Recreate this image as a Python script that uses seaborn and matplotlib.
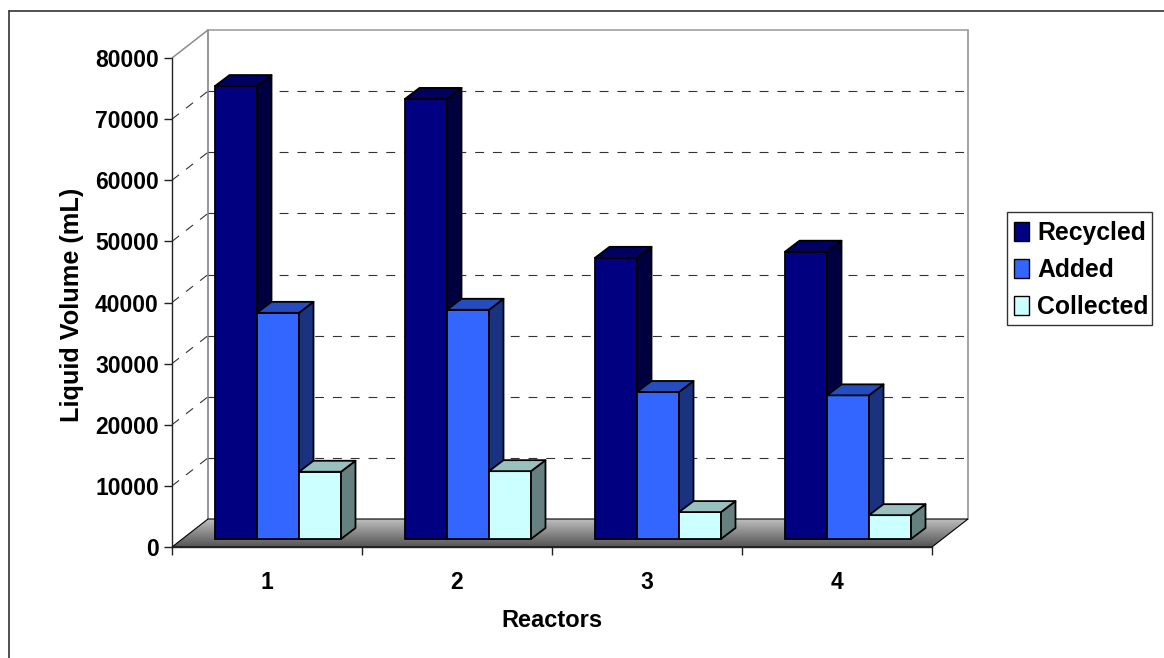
import numpy as np
import seaborn as sns
import pandas as pd
from matplotlib import pyplot as plt
from matplotlib.colors import to_rgb
from matplotlib.patches import Patch, Polygon, Rectangle
from matplotlib.transforms import Affine2D, IdentityTransform

reactors = ['1', '2', '3', '4']
series_names = ['Recycled', 'Added', 'Collected']
recycled = [74100, 72000, 46000, 47000]
added = [37000, 37500, 24050, 23500]
collected = [11000, 11100, 4400, 3900]
colors = ['#000080', '#3366FF', '#CCFFFF']
y_ticks = [0, 10000, 20000, 30000, 40000, 50000, 60000, 70000, 80000]

W, H = 1164, 658

df = pd.DataFrame({
    'reactor': reactors * 3,
    'series': np.repeat(series_names, 4),
    'volume': recycled + added + collected,
})

sns.set_theme(style='white')
plt.rcParams['font.family'] = ['Liberation Sans', 'DejaVu Sans']
plt.rcParams['font.weight'] = 'bold'
plt.rcParams['text.color'] = 'black'
plt.rcParams['axes.labelcolor'] = 'black'
plt.rcParams['xtick.labelcolor'] = 'black'
plt.rcParams['ytick.labelcolor'] = 'black'

fig = plt.figure(figsize=(W / 100, H / 100), dpi=100)
ax = fig.add_axes([172 / W, 1 - 547 / H, 760 / W, 489 / H])
ax.patch.set_alpha(0)

sns.barplot(data=df, x='reactor', y='volume', hue='series', order=reactors,
            hue_order=series_names, palette=colors, saturation=1, width=0.663,
            gap=0, edgecolor='black', linewidth=1.3, legend=False, ax=ax)
ax.set_xlim(-0.5, 3.5)
ax.set_ylim(0, 80000)

# depth of the box and of a bar, in pixels
BOX_X, BOX_Y = 36, 28
BAR_X, BAR_Y = 14.5, 11
SHIFT_X, SHIFT_Y = 11, 8


def px(x, v, dx=0.0, dy=0.0):
    X, Y = ax.transData.transform((x, v))
    return X + dx, Y + dy


def face(pts, **kw):
    p = Polygon(pts, closed=True, transform=IdentityTransform(), clip_on=False, **kw)
    ax.add_patch(p)
    return p


def seg(p0, p1, **kw):
    ax.add_line(plt.Line2D([p0[0], p1[0]], [p0[1], p1[1]], transform=IdentityTransform(),
                           clip_on=False, **kw))


# back wall and side wall
seg(px(-0.5, 0, BOX_X, BOX_Y), px(-0.5, 80000, BOX_X, BOX_Y), color='#8c8c8c', lw=1.3, zorder=1)
seg(px(3.5, 0, BOX_X, BOX_Y), px(3.5, 80000, BOX_X, BOX_Y), color='#8c8c8c', lw=1.1, zorder=1)
seg(px(-0.5, 80000), px(-0.5, 80000, BOX_X, BOX_Y), color='#8c8c8c', lw=1.1, zorder=1)
seg(px(-0.5, 80000, BOX_X, BOX_Y), px(3.5, 80000, BOX_X, BOX_Y), color='#999999', lw=1.1, zorder=1)
for v in y_ticks[1:-1]:
    seg(px(-0.5, v), px(-0.5, v, BOX_X, BOX_Y), color='#333333', lw=0.8, ls=(0, (8, 8)), zorder=1)
    seg(px(-0.5, v, BOX_X, BOX_Y), px(3.5, v, BOX_X, BOX_Y), color='#333333', lw=0.8, ls=(0, (8, 8)), zorder=1)

# floor with the grey gradient
floor = face([px(-0.5, 0), px(3.5, 0), px(3.5, 0, BOX_X, BOX_Y), px(-0.5, 0, BOX_X, BOX_Y)],
             facecolor='none', edgecolor='black', linewidth=0.8, zorder=2)
x_end = ax.transData.inverted().transform(px(3.5, 0, BOX_X, BOX_Y))
grad = np.linspace(0.74, 0.33, 64).reshape(-1, 1)
im = ax.imshow(grad, cmap='gray', vmin=0, vmax=1, aspect='auto', origin='upper',
               extent=(-0.5, x_end[0], 0, x_end[1]), zorder=1.5)
im.set_clip_box(fig.bbox)  # the floor runs past the right of the axes
im.set_clip_path(floor)
ax.set_xlim(-0.5, 3.5)
ax.set_ylim(0, 80000)

# turn the flat seaborn bars into boxes
shift = ax.transData + Affine2D().translate(SHIFT_X, SHIFT_Y)
for s, cont in enumerate(ax.containers):
    base = np.array(to_rgb(colors[s]))
    for bar in cont:
        bar.set_transform(shift)
        bar.set_clip_on(False)
        bar.set_zorder(3 + s)
        x0, x1, v = bar.get_x(), bar.get_x() + bar.get_width(), bar.get_height()
        a = px(x1, 0, SHIFT_X, SHIFT_Y)
        b = px(x1, v, SHIFT_X, SHIFT_Y)
        c = px(x0, v, SHIFT_X, SHIFT_Y)
        kw = dict(edgecolor='black', linewidth=1.3, joinstyle='round', zorder=3 + s)
        face([a, b, (b[0] + BAR_X, b[1] + BAR_Y), (a[0] + BAR_X, a[1] + BAR_Y)],
             facecolor=base * 0.5, **kw)
        face([c, b, (b[0] + BAR_X, b[1] + BAR_Y), (c[0] + BAR_X, c[1] + BAR_Y)],
             facecolor=base * 0.75, **kw)

# axes
sns.despine(ax=ax, top=True, right=True)
for side in ['left', 'bottom']:
    ax.spines[side].set_color('#222222')
    ax.spines[side].set_linewidth(1.0)
ax.set_yticks(y_ticks)
ax.set_yticklabels([str(v) for v in y_ticks])
ax.set_xticks(np.arange(-0.5, 4, 1), minor=False)
ax.set_xticklabels([])
ax.tick_params(axis='both', which='major', length=6, width=1.0, color='#222222', left=True, bottom=True)
ax.tick_params(axis='y', labelsize=16.5, pad=3.5)
ax.set_xticks(range(4), labels=reactors, minor=True)
ax.tick_params(axis='x', which='minor', length=0, labelsize=16.5, pad=17)
ax.set_xlabel('Reactors', fontsize=17, fontweight='bold', labelpad=11)
ax.set_ylabel('Liquid Volume (mL)', fontsize=18.2, fontweight='bold', labelpad=8, y=0.495)
ax.grid(False)

# legend entries sit close to the right edge of the box, so the box is its own patch
fig.add_artist(Rectangle((1007 / W, 1 - 325 / H), 145 / W, 113 / H, transform=fig.transFigure,
                         facecolor='white', edgecolor='#333333', linewidth=1.0, zorder=-1))
handles = [Patch(facecolor=c, edgecolor='black', linewidth=1.0) for c in colors]
leg = ax.legend(handles, series_names, loc='upper left', bbox_to_anchor=(1014 / W, 1 - 221 / H),
                bbox_transform=fig.transFigure, borderaxespad=0, fontsize=17.8, frameon=False,
                handlelength=0.62, handleheight=0.8, handletextpad=0.33, labelspacing=0.52,
                borderpad=0)
leg.set_zorder(20)

# frame round the picture, only top and left show
fig.add_artist(plt.Line2D([9 / W, 9 / W], [0, 1 - 11 / H], color='#333333', lw=1.2))
fig.add_artist(plt.Line2D([9 / W, 1], [1 - 11 / H, 1 - 11 / H], color='#333333', lw=1.2))

fig.savefig('out.png', dpi=100)
